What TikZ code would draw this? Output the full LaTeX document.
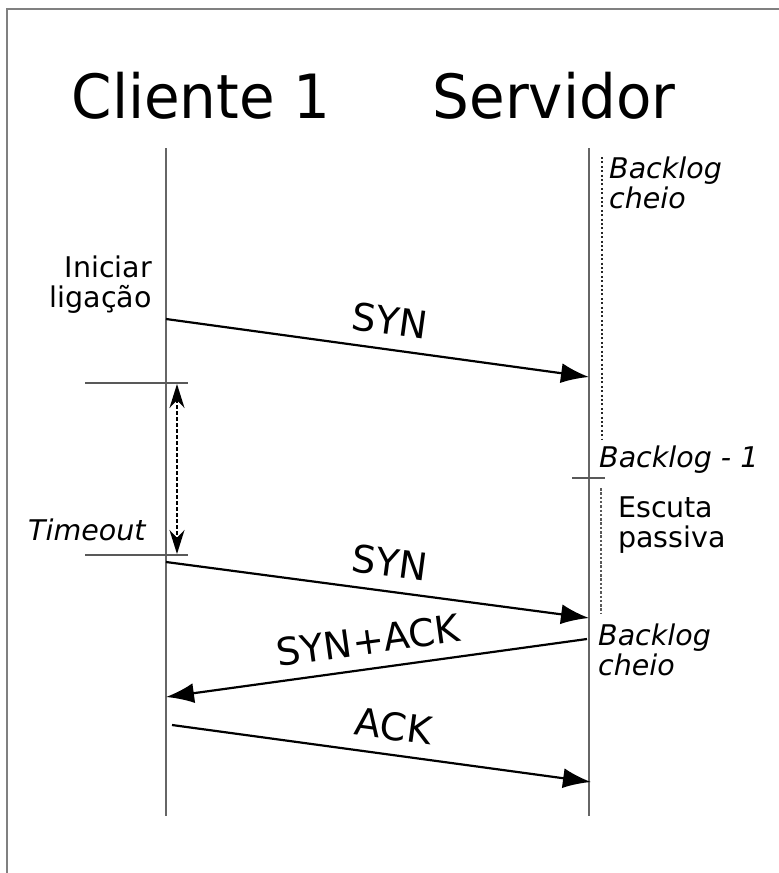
\documentclass[tikz,border=0pt]{standalone}
\usepackage{fontspec}
\setmainfont{DejaVu Sans}
\usetikzlibrary{arrows.meta}
\begin{document}
\begin{tikzpicture}[x=1pt,y=-1pt,
  life/.style={draw=black!60, line width=2.4pt},
  msg/.style={draw=black, line width=2.2pt, -{Latex[length=28pt,width=20pt]}},
  tickline/.style={draw=black!65, line width=2.4pt},
  titletext/.style={font=\fontsize{61}{64}\selectfont, inner sep=0pt, anchor=base, xscale=0.95},
  lbl/.style={font=\fontsize{28.5}{29.5}\selectfont, inner sep=0pt},
  msglbl/.style={font=\fontsize{38}{40}\selectfont, inner sep=0pt, sloped, above=14pt}
]
\useasboundingbox (0,0) rectangle (779,873);
\fill[white] (0,0) rectangle (779,873);
\draw[black!50, line width=2.2pt] (7,873) -- (7,9) -- (779,9);

% titles
\node[titletext] (t1) at (201,118) {Cliente 1};
\node[titletext] (t2) at (554,118) {Servidor};

% lifelines
\coordinate (c0) at (166,148);
\coordinate (c1) at (166,816);
\coordinate (s0) at (589,148);
\coordinate (s1) at (589,816);
\draw[life] (c0) -- (c1);
\draw[life] (s0) -- (s1);

% message end points
\coordinate (a1) at (166,319);
\coordinate (b1) at (589,377);
\coordinate (a2) at (166,562);
\coordinate (b2) at (589,618);
\coordinate (b3) at (587,639);
\coordinate (a3) at (166,697);
\coordinate (a4) at (172,725);
\coordinate (b4) at (591,782);

\draw[msg] (a1) -- (b1);
\path (a1) -- node[msglbl, pos=0.52] (l1) {SYN} (b1);
\draw[msg] (a2) -- (b2);
\path (a2) -- node[msglbl, pos=0.52] (l2) {SYN} (b2);
\draw[msg] (b3) -- (a3);
\path (a3) -- node[msglbl, pos=0.49] (l3) {SYN+ACK} (b3);
\draw[msg] (a4) -- (b4);
\path (a4) -- node[msglbl, pos=0.52] (l4) {ACK} (b4);

% timeout ticks and interval
\coordinate (k1a) at (85,383);
\coordinate (k1b) at (188,383);
\coordinate (k2a) at (85,555);
\coordinate (k2b) at (188,555);
\draw[tickline] (k1a) -- (k1b);
\draw[tickline] (k2a) -- (k2b);
\coordinate (d1) at (177,384);
\coordinate (d2) at (177,554);
\draw[black, line width=1.7pt, dash pattern=on 4pt off 2pt,
  {Stealth[length=24pt,width=15pt]}-{Stealth[length=24pt,width=15pt]}] (d1) -- (d2);

% server tick
\coordinate (st1) at (572,478);
\coordinate (st2) at (605,478);
\draw[tickline] (st1) -- (st2);

% dotted lines near server
\coordinate (p1) at (602,157);
\coordinate (p2) at (602,440);
\coordinate (q1) at (601,488);
\coordinate (q2) at (601,613);
\draw[black!85, line width=2pt, dash pattern=on 2pt off 2.4pt] (p1) -- (p2);
\draw[black!65, line width=1.2pt, dash pattern=on 2.5pt off 1.8pt] (q1) -- (q2);

% labels
\node[lbl, align=right, anchor=north east] (ini) at (152,256) {Iniciar\\ligação};
\node[lbl, anchor=base west] (tmo) at (28,540) {\itshape Timeout};
\node[lbl, align=left, anchor=north west] (bc1) at (609,157) {\itshape Backlog\\\itshape cheio};
\node[lbl, anchor=base west] (bm1) at (599,467) {\itshape Backlog - 1};
\node[lbl, align=left, anchor=north west] (esc) at (618,497) {Escuta\\passiva};
\node[lbl, align=left, anchor=north west] (bc2) at (598,624) {\itshape Backlog\\\itshape cheio};
\end{tikzpicture}
\end{document}
